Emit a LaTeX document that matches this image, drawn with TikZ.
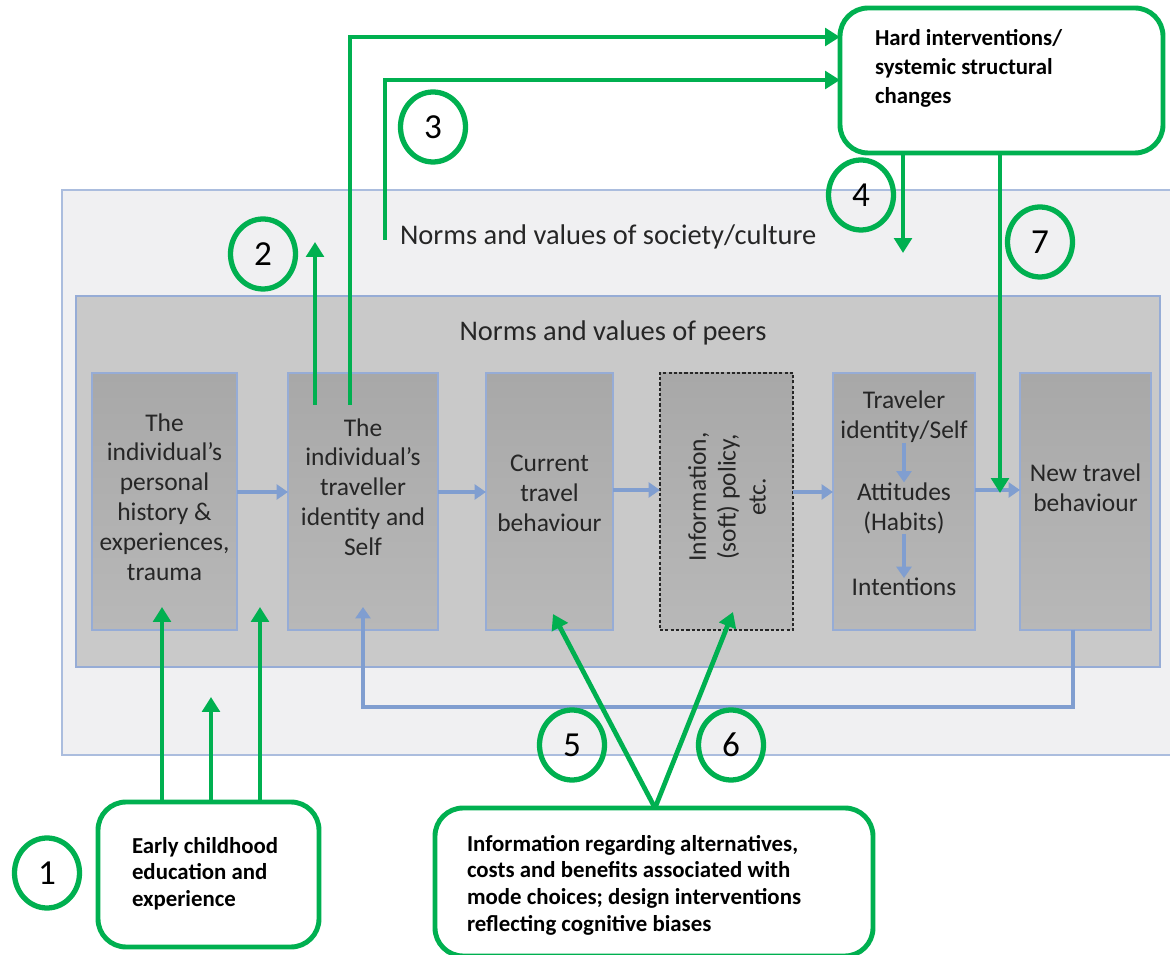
\documentclass[tikz,border=0pt]{standalone}
\usepackage{fontspec}
\setmainfont{Carlito}
\usetikzlibrary{arrows.meta,shapes.geometric}
\definecolor{grn}{RGB}{0,176,80}
\definecolor{blu}{RGB}{128,158,208}
\definecolor{bord}{RGB}{150,172,214}
\definecolor{outerfill}{RGB}{240,240,242}
\definecolor{innerfill}{RGB}{201,201,201}
\definecolor{boxtop}{RGB}{168,168,168}
\definecolor{boxbot}{RGB}{184,184,184}
\definecolor{txt}{RGB}{38,38,38}
\begin{document}
\begin{tikzpicture}[x=0.02cm,y=-0.02cm,
  every node/.style={inner sep=0pt, outer sep=0pt},
  sz/.style 2 args={minimum width=#1*0.02cm, minimum height=#2*0.02cm},
  gbox/.style={draw=grn, line width=2.8pt, rounded corners=16pt, fill=white},
  pbox/.style={draw=bord, line width=0.8pt, top color=boxtop, bottom color=boxbot},
  btxt/.style={text=txt, font=\fontsize{14.5}{17}\selectfont, align=center},
  ntxt/.style={text=txt, font=\fontsize{16.2}{19}\selectfont},
  gtxt/.style={text=black, font=\bfseries\fontsize{13}{15.3}\selectfont, align=left},
  num/.style={draw=grn, line width=3pt, ellipse, minimum width=65*0.02cm, minimum height=70*0.02cm, font=\fontsize{20}{20}\selectfont},
  garr/.style={draw=grn, line width=2.7pt, -{Triangle[length=8.5pt,width=10pt]}},
  barr/.style={draw=blu, line width=1.8pt, -{Triangle[length=6.5pt,width=8.5pt]}},
]
\useasboundingbox (0,0) rectangle (1170,955);
\fill[white] (0,0) rectangle (1170,955);

% society and peers frames
\node[sz={1130}{565}, draw=bord!80, line width=0.8pt, fill=outerfill] (society) at (627,472.5) {};
\node[sz={1084}{371}, draw=bord, line width=0.8pt, fill=innerfill] (peers) at (618,481.5) {};
\node[ntxt, anchor=west] (soctxt) at (400,237) {Norms and values of society/culture};
\node[ntxt] (peertxt) at (613,333) {Norms and values of peers};

% the six boxes
\node[pbox, sz={145}{257}] (b1) at (164.5,501.5) {};
\node[pbox, sz={150}{257}] (b2) at (363,501.5) {};
\node[pbox, sz={127}{257}] (b3) at (549.5,501.5) {};
\node[sz={133}{257}, draw=black!85, line width=0.8pt, dash pattern=on 1.8pt off 1.2pt, top color=boxtop, bottom color=boxbot] (b4) at (726.5,501.5) {};
\node[pbox, sz={142}{257}] (b5) at (904,501.5) {};
\node[pbox, sz={131}{257}] (b6) at (1085.5,501.5) {};

\node[btxt] (t1) at (164.5,497) {The\\individual’s\\personal\\history \&\\experiences,\\trauma};
\node[btxt] (t2) at (363,487) {The\\individual’s\\traveller\\identity and\\Self};
\node[btxt] (t3) at (549.5,493) {Current\\travel\\behaviour};
\node[btxt, rotate=90] (t4) at (727,497) {Information,\\(soft) policy,\\etc.};
\node[btxt] (t5a) at (904,417) {Traveler\\identity/Self};
\node[btxt] (t5b) at (904,508) {Attitudes\\(Habits)};
\node[btxt] (t5c) at (904,587) {Intentions};
\node[btxt] (t6) at (1085.5,488) {New travel\\behaviour};

% blue arrows
\draw[barr] (b1.east |- 0,492) -- (b2.west |- 0,492);
\draw[barr] (b2.east |- 0,492) -- (b3.west |- 0,492);
\draw[barr] (b3.east |- 0,490) -- (b4.west |- 0,490);
\draw[barr] (b4.east |- 0,492) -- (b5.west |- 0,492);
\draw[barr] (b5.east |- 0,490) -- (b6.west |- 0,490);
\draw[barr] (t5a.south) -- (t5b.north);
\draw[barr] (t5b.south) -- (t5c.north);
\coordinate (fb) at (363,607);
\draw[barr] (b6.south -| 1073,0) |- (0,707 -| fb) -- (fb);

% green boxes
\node[gbox, sz={323}{145}] (hard) at (1001.5,80.5) {};
\node[gtxt, anchor=north west, font=\bfseries\fontsize{13}{16.5}\selectfont] (hardtxt) at (875,29) {Hard interventions/\\systemic structural\\changes};
\node[gbox, sz={221}{145}] (early) at (208.5,874.5) {};
\node[gtxt, anchor=north west] (earlytxt) at (132,837) {Early childhood\\education and\\experience};
\node[gbox, sz={438}{148}] (info) at (654,882) {};
\node[gtxt, anchor=north west] (infotxt) at (467,835) {Information regarding alternatives,\\costs and benefits associated with\\mode choices; design interventions\\reflecting cognitive biases};

% numbered circles
\node[num] (n1) at (47,873) {1};
\node[num] (n2) at (263,254) {2};
\node[num] (n3) at (433,127) {3};
\node[num] (n4) at (861,195) {4};
\node[num] (n5) at (572,745) {5};
\node[num] (n6) at (731,745) {6};
\node[num] (n7) at (1040,242) {7};

% green connectors
\coordinate (g1) at (162,607);
\coordinate (g2) at (211,697);
\coordinate (g3) at (260,607);
\draw[garr] (early.north -| g1) -- (g1);
\draw[garr] (early.north -| g2) -- (g2);
\draw[garr] (early.north -| g3) -- (g3);

\coordinate (a2s) at (315,405);
\coordinate (a2e) at (315,242);
\draw[garr] (a2s) -- (a2e);

\coordinate (s3a) at (350,405);
\coordinate (h1) at (840,37);
\draw[garr] (s3a) |- (h1);
\coordinate (s3b) at (385,240);
\coordinate (h2) at (840,80);
\draw[garr] (s3b) |- (h2);

\coordinate (a4) at (903,253);
\draw[garr] (hard.south -| a4) -- (a4);
\coordinate (a7) at (1000,493);
\draw[garr] (hard.south -| a7) -- (a7);

\coordinate (apex) at (655,808);
\coordinate (a5) at (553,614);
\coordinate (a6) at (733,612);
\draw[garr] (apex) -- (a5);
\draw[garr] (apex) -- (a6);
\end{tikzpicture}
\end{document}
